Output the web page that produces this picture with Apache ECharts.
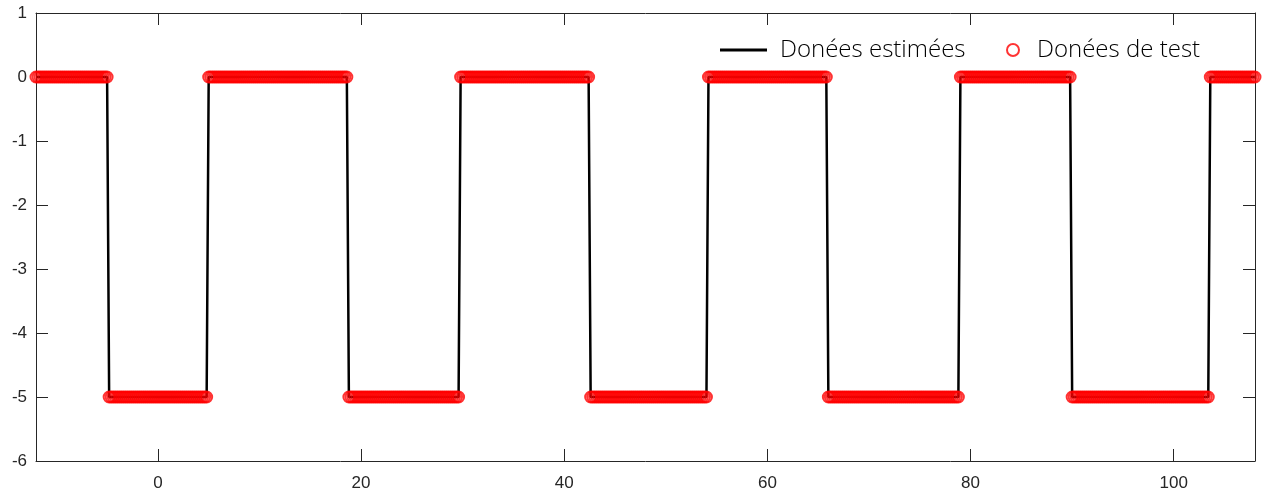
<!DOCTYPE html>
<html>
<head>
<meta charset="utf-8">
<script src="https://cdn.jsdelivr.net/npm/echarts@6/dist/echarts.min.js"></script>
<style>
  html, body { margin: 0; padding: 0; background: #ffffff; }
  #chart { width: 1265px; height: 494px; }
</style>
</head>
<body>
<div id="chart"></div>
<script>
// Square-wave signal, sampled every 0.2 from -12 to 108, stored as runs of constant level
const seriesNames = ['Donées estimées', 'Donées de test'];
const sampleStart = -12;
const sampleStep = 0.2;
const runLevels  = [0, -5, 0, -5, 0, -5, 0, -5, 0, -5, 0];
const runLengths = [36, 49, 69, 55, 64, 58, 59, 65, 55, 68, 23];
const xTickValues = [0, 20, 40, 60, 80, 100];
const yTickValues = [-6, -5, -4, -3, -2, -1, 0, 1];

// Expand the runs into [x, y] samples
const samples = [];
let k = 0;
runLevels.forEach(function (level, i) {
  for (let j = 0; j < runLengths[i]; j++) {
    const x = Math.round((sampleStart + k * sampleStep) * 10) / 10;
    samples.push([x, level]);
    k++;
  }
});

const axisColor = '#262626';
const labelFont = { color: '#262626', fontSize: 17, fontFamily: 'Liberation Sans, Arial, sans-serif' };
const legendFont = { color: '#000000', fontSize: 24, fontFamily: 'Open Sans', fontWeight: 300 };

const chart = echarts.init(document.getElementById('chart'), null, { renderer: 'canvas' });

chart.setOption({
  animation: false,
  backgroundColor: '#ffffff',
  grid: { left: 36, right: 10, top: 13, bottom: 33, containLabel: false, outerBoundsMode: 'none' },
  legend: [
    {
      data: [{ name: seriesNames[0], icon: 'rect' }],
      left: 715, top: 33,
      itemWidth: 47, itemHeight: 3,
      textStyle: Object.assign({ padding: [0, 0, 0, 8] }, legendFont),
      selectedMode: false
    },
    {
      data: [{ name: seriesNames[1] }],
      left: 1001, top: 33,
      itemWidth: 12, itemHeight: 12,
      textStyle: Object.assign({ padding: [0, 0, 0, 13] }, legendFont),
      selectedMode: false
    }
  ],
  xAxis: [
    {
      type: 'value', min: -12, max: 108, position: 'bottom',
      axisLine: { show: true, onZero: false, lineStyle: { color: axisColor, width: 1 } },
      axisTick: { show: true, inside: true, length: 12, customValues: xTickValues, lineStyle: { color: axisColor } },
      axisLabel: Object.assign({ margin: 14, customValues: xTickValues }, labelFont),
      splitLine: { show: false }
    },
    {
      type: 'value', min: -12, max: 108, position: 'top',
      axisLine: { show: true, onZero: false, lineStyle: { color: axisColor, width: 1 } },
      axisTick: { show: true, inside: true, length: 12, customValues: xTickValues, lineStyle: { color: axisColor } },
      axisLabel: { show: false },
      splitLine: { show: false }
    }
  ],
  yAxis: [
    {
      type: 'value', min: -6, max: 1, interval: 1, position: 'left',
      axisLine: { show: true, onZero: false, lineStyle: { color: axisColor, width: 1 } },
      axisTick: { show: true, inside: true, length: 12, lineStyle: { color: axisColor } },
      axisLabel: Object.assign({ margin: 9 }, labelFont),
      splitLine: { show: false }
    },
    {
      type: 'value', min: -6, max: 1, interval: 1, position: 'right',
      axisLine: { show: true, onZero: false, lineStyle: { color: axisColor, width: 1 } },
      axisTick: { show: true, inside: true, length: 12, lineStyle: { color: axisColor } },
      axisLabel: { show: false },
      splitLine: { show: false }
    }
  ],
  series: [
    {
      name: seriesNames[0],
      type: 'line',
      xAxisIndex: 0, yAxisIndex: 0,
      data: samples,
      symbol: 'none',
      clip: false,
      lineStyle: { color: '#000000', width: 2.5 },
      itemStyle: { color: '#000000' },
      z: 2
    },
    {
      name: seriesNames[1],
      type: 'scatter',
      xAxisIndex: 0, yAxisIndex: 0,
      data: samples,
      symbol: 'circle',
      symbolSize: 11,
      clip: false,
      itemStyle: { color: 'rgba(0,0,0,0)', borderColor: '#ff0000', borderWidth: 2 },
      z: 3
    }
  ]
});
</script>
</body>
</html>
